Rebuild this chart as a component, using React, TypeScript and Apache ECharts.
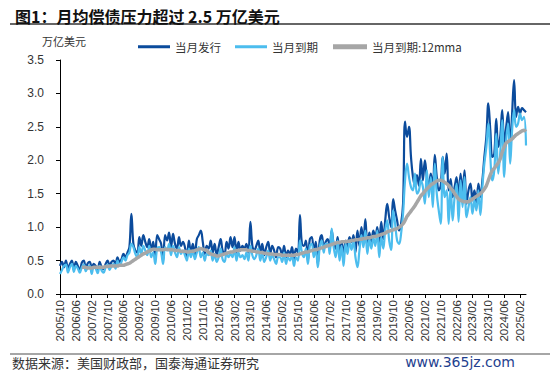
import React, { useEffect, useRef } from "react";
import * as echarts from "echarts";

// Monthly categories 2005/10 – 2025/05
const months: string[] = [];
{
  let y = 2005;
  let m = 10;
  while (months.length < 236) {
    months.push(`${y}/${String(m).padStart(2, "0")}`);
    m++;
    if (m > 12) {
      m = 1;
      y++;
    }
  }
}

const seriesNames = ["当月发行", "当月到期", "当月到期:12mma"];

// 当月发行 (万亿美元)
const issuance: number[] = [
  0.42, 0.48, 0.40,
  0.50, 0.38, 0.45, 0.50, 0.36, 0.48, 0.42, 0.35, 0.47, 0.50, 0.38, 0.46,
  0.48, 0.38, 0.45, 0.42, 0.36, 0.48, 0.40, 0.37, 0.45, 0.50, 0.42, 0.48,
  0.50, 0.45, 0.55, 0.48, 0.52, 0.60, 0.55, 0.62, 0.70, 1.20, 0.75, 0.65,
  0.62, 0.85, 0.72, 0.88, 0.78, 0.70, 0.82, 0.65, 0.78, 0.55, 0.88, 0.82,
  0.75, 0.50, 0.88, 0.80, 0.92, 0.70, 0.90, 0.75, 0.68, 0.85, 0.72, 0.78,
  0.70, 0.55, 0.80, 0.62, 0.75, 0.58, 0.82, 0.88, 0.95, 0.78, 0.60, 0.72,
  0.68, 0.80, 0.62, 0.75, 0.58, 0.70, 0.82, 0.65, 0.60, 0.78, 0.68, 0.85,
  0.70, 0.85, 0.62, 0.78, 0.65, 0.72, 0.68, 0.75, 0.62, 1.08, 0.72, 0.65,
  0.72, 0.80, 0.62, 0.75, 0.58, 0.70, 0.78, 0.60, 0.72, 0.65, 0.55, 0.70,
  0.68, 0.58, 0.72, 0.55, 0.65, 0.60, 0.70, 0.52, 0.68, 0.62, 1.18, 0.75,
  0.72, 0.80, 0.50, 0.82, 0.85, 0.62, 0.78, 0.45, 0.80, 0.88, 0.70, 0.78,
  0.82, 0.70, 0.95, 0.75, 0.68, 0.85, 0.62, 0.78, 0.55, 0.80, 0.70, 0.85,
  0.78, 0.88, 0.62, 0.95, 0.72, 1.00, 0.80, 1.12, 0.70, 0.92, 0.78, 0.95,
  0.85, 1.00, 0.75, 1.08, 0.82, 1.10, 1.35, 1.15, 1.00, 1.42, 1.25, 1.10,
  0.95, 1.05, 1.35, 2.58, 2.35, 2.50, 2.05, 1.75, 1.62, 1.78, 1.62, 2.02,
  1.70, 2.00, 1.75, 1.62, 1.80, 1.58, 2.08, 1.75, 1.55, 1.62, 2.05, 1.80,
  2.10, 1.55, 1.72, 1.45, 1.60, 1.75, 1.40, 1.80, 1.50, 1.85, 1.35, 1.55,
  1.65, 1.40, 1.55, 1.35, 1.65, 1.45, 1.70, 2.05, 2.35, 2.85, 2.45, 2.05,
  2.10, 2.62, 2.20, 2.35, 2.75, 2.25, 2.50, 2.72, 2.15, 2.70, 3.20, 2.65,
  2.80, 2.70, 2.78, 2.75, 2.72,
];

// 当月到期 (万亿美元)
const maturity: number[] = [
  0.30, 0.36, 0.42,
  0.44, 0.32, 0.40, 0.45, 0.33, 0.42, 0.38, 0.32, 0.40, 0.44, 0.34, 0.40,
  0.42, 0.30, 0.40, 0.38, 0.31, 0.42, 0.35, 0.32, 0.40, 0.44, 0.36, 0.42,
  0.45, 0.38, 0.50, 0.42, 0.48, 0.55, 0.50, 0.58, 0.62, 0.75, 0.70, 0.60,
  0.55, 0.70, 0.60, 0.72, 0.65, 0.58, 0.72, 0.55, 0.62, 0.45, 0.68, 0.70,
  0.62, 0.45, 0.70, 0.65, 0.75, 0.58, 0.72, 0.62, 0.55, 0.70, 0.60, 0.65,
  0.58, 0.50, 0.68, 0.55, 0.65, 0.52, 0.62, 0.70, 0.55, 0.62, 0.50, 0.60,
  0.58, 0.65, 0.50, 0.60, 0.48, 0.55, 0.68, 0.52, 0.48, 0.62, 0.55, 0.60,
  0.55, 0.70, 0.50, 0.62, 0.55, 0.58, 0.52, 0.62, 0.50, 0.72, 0.58, 0.52,
  0.58, 0.68, 0.50, 0.62, 0.48, 0.55, 0.65, 0.50, 0.58, 0.52, 0.45, 0.55,
  0.55, 0.48, 0.62, 0.45, 0.55, 0.50, 0.58, 0.42, 0.55, 0.50, 0.80, 0.62,
  0.55, 0.68, 0.45, 0.72, 0.75, 0.55, 0.68, 0.40, 0.70, 0.80, 0.62, 0.75,
  0.75, 0.60, 0.98, 0.70, 0.55, 0.80, 0.50, 0.72, 0.42, 0.75, 0.60, 0.80,
  0.66, 0.80, 0.55, 0.40, 0.65, 0.88, 0.70, 0.95, 0.60, 0.82, 0.68, 0.85,
  0.72, 0.95, 0.55, 0.85, 0.68, 0.95, 1.10, 0.80, 0.66, 1.25, 1.05, 0.80,
  0.75, 0.90, 1.20, 1.70, 1.95, 1.75, 1.60, 1.55, 1.80, 1.50, 1.55, 1.70,
  1.60, 1.35, 1.85, 1.45, 1.75, 1.30, 1.95, 1.50, 1.25, 1.05, 2.05, 1.45,
  1.55, 1.05, 1.62, 1.10, 1.45, 1.65, 1.08, 1.70, 1.30, 1.75, 1.15, 1.30,
  1.45, 1.20, 1.40, 1.25, 1.55, 1.18, 1.60, 1.95, 2.20, 2.55, 2.05, 1.70,
  1.85, 2.40, 1.80, 2.10, 2.60, 1.75, 2.30, 2.55, 1.95, 2.45, 2.75, 2.50,
  2.55, 2.70, 2.60, 2.65, 2.22,
];

// 当月到期:12mma (万亿美元)
const maturity12mma: (number | null)[] = [
  null, null, null,
  null, null, null, null, null, null, null, null, 0.40, 0.40, 0.40, 0.39,
  0.39, 0.39, 0.40, 0.40, 0.40, 0.40, 0.40, 0.40, 0.41, 0.41, 0.42, 0.42,
  0.42, 0.42, 0.42, 0.43, 0.43, 0.43, 0.44, 0.45, 0.46, 0.48, 0.50, 0.52,
  0.54, 0.56, 0.58, 0.60, 0.61, 0.63, 0.64, 0.66, 0.67, 0.67, 0.66, 0.66,
  0.66, 0.66, 0.67, 0.67, 0.66, 0.66, 0.66, 0.65, 0.65, 0.65, 0.64, 0.64,
  0.64, 0.63, 0.63, 0.64, 0.64, 0.65, 0.66, 0.67, 0.68, 0.67, 0.66, 0.65,
  0.62, 0.60, 0.59, 0.58, 0.57, 0.57, 0.58, 0.59, 0.60, 0.61, 0.62, 0.63,
  0.63, 0.64, 0.65, 0.65, 0.66, 0.66, 0.66, 0.66, 0.65, 0.65, 0.64, 0.64,
  0.63, 0.63, 0.62, 0.62, 0.61, 0.61, 0.60, 0.60, 0.60, 0.59, 0.59, 0.59,
  0.59, 0.58, 0.58, 0.58, 0.58, 0.58, 0.58, 0.58, 0.59, 0.59, 0.60, 0.61,
  0.62, 0.63, 0.63, 0.64, 0.65, 0.66, 0.66, 0.67, 0.68, 0.69, 0.70, 0.71,
  0.72, 0.73, 0.74, 0.75, 0.76, 0.77, 0.77, 0.78, 0.78, 0.78, 0.79, 0.79,
  0.80, 0.80, 0.81, 0.81, 0.82, 0.82, 0.83, 0.83, 0.84, 0.84, 0.85, 0.86,
  0.86, 0.87, 0.88, 0.89, 0.90, 0.91, 0.93, 0.94, 0.95, 0.96, 0.97, 0.98,
  1.00, 1.02, 1.05, 1.10, 1.16, 1.20, 1.24, 1.28, 1.32, 1.37, 1.42, 1.47,
  1.50, 1.54, 1.57, 1.60, 1.63, 1.65, 1.67, 1.69, 1.70, 1.70, 1.69, 1.67,
  1.65, 1.62, 1.58, 1.55, 1.50, 1.46, 1.42, 1.40, 1.39, 1.38, 1.38, 1.38,
  1.40, 1.42, 1.44, 1.46, 1.48, 1.50, 1.53, 1.57, 1.62, 1.70, 1.78, 1.85,
  1.88, 1.92, 1.96, 2.02, 2.12, 2.20, 2.26, 2.28, 2.30, 2.32, 2.35, 2.38,
  2.40, 2.42, 2.44, 2.45, 2.43,
];

const yMin = 0;
const yMax = 3.5;
const yStep = 0.5;

const CJK = "'Noto Sans CJK SC', sans-serif";
const LATIN = "'Liberation Sans', Arial, sans-serif";

export default function App() {
  const ref = useRef<HTMLDivElement>(null);

  useEffect(() => {
    if (!ref.current) return;
    const chart = echarts.init(ref.current, undefined, { renderer: "svg" });
    chart.setOption({
      animation: false,
      backgroundColor: "#ffffff",
      title: {
        text: "图1：月均偿债压力超过 2.5 万亿美元",
        left: 10,
        top: 3,
        textStyle: {
          fontFamily: CJK,
          fontSize: 16,
          fontWeight: "bold",
          color: "#111",
        },
      },
      legend: [
        {
          left: 133,
          top: 36,
          icon: "rect",
          itemWidth: 32,
          itemHeight: 3,
          itemGap: 14,
          data: [seriesNames[0], seriesNames[1]],
          textStyle: { fontFamily: CJK, fontSize: 11.5, color: "#333" },
        },
        {
          left: 328,
          top: 36,
          icon: "rect",
          itemWidth: 34,
          itemHeight: 5,
          data: [seriesNames[2]],
          textStyle: { fontFamily: CJK, fontSize: 11.5, color: "#333" },
        },
      ],
      grid: { left: 60, right: 24, top: 60, bottom: 85, containLabel: false },
      xAxis: {
        type: "category",
        data: months,
        boundaryGap: false,
        axisLine: { lineStyle: { color: "#000", width: 1 } },
        axisTick: { interval: 7, length: 4, lineStyle: { color: "#000" } },
        axisLabel: {
          interval: 7,
          rotate: 90,
          margin: 6,
          fontFamily: LATIN,
          fontSize: 11.5,
          color: "#333",
        },
        splitLine: { show: false },
      },
      yAxis: {
        type: "value",
        min: yMin,
        max: yMax,
        interval: yStep,
        axisLine: { show: true, lineStyle: { color: "#000", width: 1 } },
        axisTick: { show: true, length: 4, lineStyle: { color: "#000" } },
        axisLabel: {
          margin: 16,
          fontFamily: LATIN,
          fontSize: 12,
          color: "#333",
          formatter: (v: number) => v.toFixed(1),
        },
        splitLine: { show: false },
      },
      graphic: [
        {
          type: "line",
          shape: { x1: 10, y1: 24, x2: 550, y2: 24 },
          style: { stroke: "#666", lineWidth: 2 },
        },
        {
          type: "text",
          left: 42,
          top: 35,
          style: {
            text: "万亿美元",
            fontFamily: CJK,
            fontSize: 11,
            fill: "#333",
          },
        },
        {
          type: "line",
          shape: { x1: 10, y1: 354, x2: 550, y2: 354 },
          style: { stroke: "#888", lineWidth: 1.5 },
        },
        {
          type: "text",
          left: 12,
          top: 356,
          style: {
            text: "数据来源：美国财政部，国泰海通证券研究",
            fontFamily: CJK,
            fontSize: 13,
            fill: "#333",
          },
        },
        {
          type: "text",
          right: 35,
          top: 355,
          style: {
            text: "www.365jz.com",
            fontFamily: "'DejaVu Sans', sans-serif",
            fontSize: 14,
            fill: "#1f3f8f",
          },
        },
      ],
      series: [
        {
          name: seriesNames[0],
          type: "line",
          data: issuance,
          smooth: 0.4,
          showSymbol: false,
          lineStyle: { color: "#0b4b9c", width: 2.2 },
          itemStyle: { color: "#0b4b9c" },
        },
        {
          name: seriesNames[1],
          type: "line",
          data: maturity,
          smooth: 0.4,
          showSymbol: false,
          lineStyle: { color: "#4cbdee", width: 2.2 },
          itemStyle: { color: "#4cbdee" },
        },
        {
          name: seriesNames[2],
          type: "line",
          data: maturity12mma,
          smooth: 0.3,
          showSymbol: false,
          connectNulls: false,
          lineStyle: { color: "#a6a6a6", width: 3.5 },
          itemStyle: { color: "#a6a6a6" },
        },
      ],
    });
    return () => chart.dispose();
  }, []);

  return (
    <div
      ref={ref}
      style={{
        position: "fixed",
        left: 0,
        top: 0,
        width: 550,
        height: 379,
        background: "#fff",
      }}
    />
  );
}
